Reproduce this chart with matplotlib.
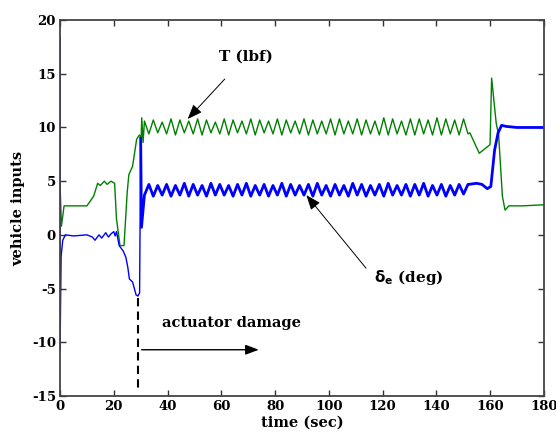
import numpy as np
import matplotlib.pyplot as plt

# thrust T (lbf): shape before and after the limit-cycle ripple
T_pre_t = [0, 0.5, 1.5, 10, 12.5, 14, 15, 16.5, 17.5, 19, 20.3, 21, 22.3, 23.8, 25, 25.6, 27, 28.5, 29.5, 30.2, 30.4, 30.9]
T_pre   = [4.8, 0.8, 2.7, 2.7, 3.6, 4.8, 4.6, 5.0, 4.7, 5.0, 4.8, 1.5, -1.0, -1.0, 4.0, 5.6, 6.4, 8.9, 9.3, 9.1, 10.9, 8.6]
T_peak   = [10.6, 10.7, 10.5, 10.8, 10.7, 10.6, 10.8, 10.7, 10.5, 10.8, 10.7, 10.6, 10.8,
            10.7, 10.6, 10.8, 10.7, 10.6, 10.8, 10.7, 10.6, 10.8, 10.8, 10.6, 10.8, 10.7,
            10.6, 10.9, 10.8, 10.6, 10.8, 10.8, 10.7, 10.9, 10.8, 10.7, 10.8]
T_trough = [9.4, 9.5, 9.4, 9.3, 9.5, 9.4, 9.3, 9.5, 9.4, 9.3, 9.5, 9.4, 9.3,
            9.5, 9.4, 9.3, 9.5, 9.4, 9.3, 9.4, 9.4, 9.3, 9.4, 9.4, 9.3, 9.4,
            9.3, 9.3, 9.4, 9.3, 9.3, 9.4, 9.3, 9.3, 9.4, 9.3, 9.4]
T_post_t = [152.5, 156, 160, 160.6, 162.3, 163.2, 164.6, 165.6, 167, 172, 180]
T_post   = [9.5, 7.6, 8.4, 14.6, 10.4, 9.3, 3.6, 2.3, 2.7, 2.7, 2.8]

# elevator deflection delta_e (deg)
d_pre_t = [0, 0, 0.4, 1.0, 2.0, 5, 10, 12, 13, 14.5, 15.5, 17, 18, 19, 20, 20.5, 21,
           22, 23.5, 24.5, 25.2, 25.8, 27, 28.3, 29, 29.6, 30.0, 30.3]
d_pre   = [18.4, -10.7, -2.0, -0.5, 0.0, -0.1, 0.0, -0.2, -0.5, 0.0, -0.3, 0.2, -0.2, 0.1,
           0.3, -0.1, 0.3, -1.0, -1.5, -2.1, -3.0, -4.1, -4.4, -5.6, -5.7, -5.4, 9.0, 0.7]
d_peak   = [4.7, 4.6, 4.7, 4.6, 4.8, 4.7, 4.6, 4.8, 4.7, 4.6, 4.7, 4.8, 4.6,
            4.7, 4.6, 4.8, 4.7, 4.6, 4.7, 4.8, 4.6, 4.7, 4.6, 4.8, 4.7, 4.6,
            4.7, 4.8, 4.6, 4.7, 4.7, 4.8, 4.6, 4.7, 4.6, 4.7, 4.7]
d_trough = [3.7, 3.6, 3.7, 3.6, 3.7, 3.6, 3.7, 3.6, 3.7, 3.7, 3.6, 3.7, 3.6,
            3.7, 3.6, 3.7, 3.6, 3.7, 3.7, 3.6, 3.7, 3.6, 3.7, 3.6, 3.7, 3.6,
            3.7, 3.6, 3.7, 3.7, 3.6, 3.7, 3.6, 3.7, 3.6, 3.7, 3.8]
d_post_t = [152, 155, 157, 159, 160.3, 161.7, 163, 164.3, 166, 170, 175, 180]
d_post   = [4.7, 4.8, 4.7, 4.3, 4.5, 7.9, 9.5, 10.2, 10.1, 10.0, 10.0, 10.0]

ripple_t0, ripple_t1 = 31.4, 151.8


def build(t_pre, y_pre, peaks, troughs, t_post, y_post):
    n = len(peaks)
    tr = np.linspace(ripple_t0, ripple_t1, 2 * n)
    yr = np.empty(2 * n)
    yr[0::2] = peaks
    yr[1::2] = troughs
    t = np.concatenate([t_pre, tr, t_post])
    y = np.concatenate([y_pre, yr, y_post])
    return t, y


tT, T = build(T_pre_t, T_pre, T_peak, T_trough, T_post_t, T_post)
td, d = build(d_pre_t, d_pre, d_trough, d_peak, d_post_t, d_post)

plt.rcParams['font.family'] = 'DejaVu Serif'
plt.rcParams['font.weight'] = 'bold'
plt.rcParams['axes.unicode_minus'] = False

fig = plt.figure(figsize=(5.56, 4.37), dpi=100)
ax = fig.add_axes([0.108, 0.094, 0.870, 0.860])

ax.plot(tT, T, color='#008000', lw=1.0)
early = td <= 30.0
late = td >= 30.0
ax.plot(td[early], d[early], color='#0000ff', lw=1.0)
ax.plot(td[late], d[late], color='#0000ff', lw=2.0)

ax.set_xlim(0, 180)
ax.set_ylim(-15, 20)
ax.set_xticks(np.arange(0, 181, 20))
ax.set_yticks(np.arange(-15, 21, 5))
ax.tick_params(direction='in', top=True, right=True, length=4, width=1,
               labelsize=9.5, color='#333333', pad=3)
for s in ax.spines.values():
    s.set_color('#444444')
    s.set_linewidth(1.3)

ax.set_xlabel('time (sec)', fontsize=10.5, fontweight='bold', labelpad=2)
ax.set_ylabel('vehicle inputs', fontsize=10.5, fontweight='bold', labelpad=5)

# labels with pointers to the curves
ax.annotate('', xy=(46.8, 10.6), xytext=(62, 14.7),
            arrowprops=dict(arrowstyle='-|>,head_length=0.9,head_width=0.35',
                            color='black', lw=0.7))
ax.text(69, 16.6, 'T (lbf)', ha='center', va='center', fontsize=11, fontweight='bold')
ax.annotate('', xy=(91, 3.9), xytext=(114.5, -3.3),
            arrowprops=dict(arrowstyle='-|>,head_length=0.9,head_width=0.35',
                            color='black', lw=0.7))
ax.text(117, -4.0, r'$\mathbf{\delta_e}$ (deg)', ha='left', va='center',
        fontsize=11, fontweight='bold')

# actuator damage marker
ax.plot([28.9, 28.9], [-5.9, -14.5], color='black', lw=1.5, ls=(0, (4, 2.5)))
ax.annotate('', xy=(75, -10.7), xytext=(29.3, -10.7),
            arrowprops=dict(arrowstyle='-|>,head_length=0.8,head_width=0.3',
                            color='black', lw=1.0))
ax.text(37.8, -8.2, 'actuator damage', ha='left', va='center', fontsize=10.5,
        fontweight='bold')

fig.savefig('out.png', dpi=100)
